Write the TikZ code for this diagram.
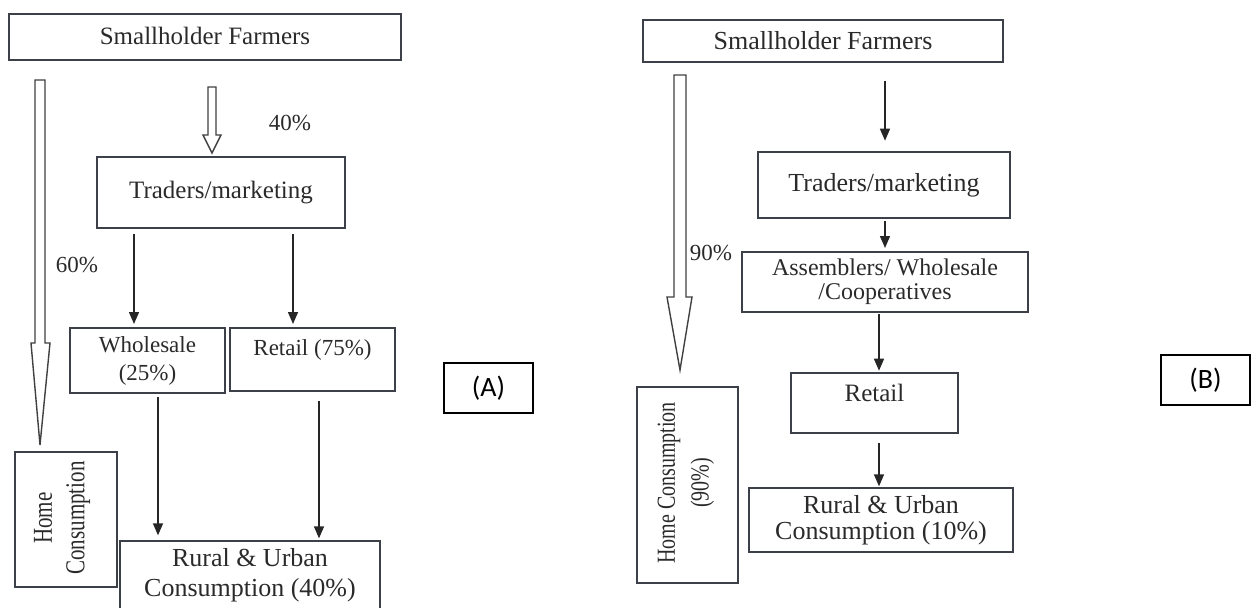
\documentclass[tikz,border=0pt]{standalone}
\usepackage{fontspec}
\setmainfont{Liberation Serif}
\newfontfamily\labfont{Carlito}
\usetikzlibrary{arrows.meta}
\definecolor{ink}{HTML}{2A2A2A}
\definecolor{edge}{HTML}{3C4048}
\begin{document}
\begin{tikzpicture}[x=1pt,y=-1pt,
  box/.style={draw=edge,line width=1.3pt,inner sep=0pt,align=center,text=ink,
              font=\fontsize{25}{30}\selectfont},
  thick box/.style={box,line width=2.6pt},
  mid box/.style={box,line width=2pt},
  vtext/.style={rotate=90,yscale=1.3,align=center,text=ink,inner sep=0pt},
  lab/.style={draw=black,line width=1.2pt,inner sep=0pt,minimum width=89pt,minimum height=50pt,
              font=\labfont\fontsize{28}{32}\selectfont},
  pct/.style={text=ink,inner sep=0pt,font=\fontsize{23}{26}\selectfont},
  arr/.style={draw=black!85,line width=1.4pt,-{Triangle[length=12pt,width=10pt]}},
  hollow/.style={draw=black!75,line width=1.4pt,fill=white,line join=miter}
]
\useasboundingbox (0,0) rectangle (1251,608);

% ================= Panel A =================
\node[box,minimum width=392pt,minimum height=46pt] (sfA) at (205,37) {\raisebox{3pt}{Smallholder Farmers}};
\node[thick box,minimum width=248pt,minimum height=71pt] (trA) at (221,192.5) {Traders/marketing};
\node[mid box,minimum width=155pt,minimum height=65pt,font=\fontsize{23}{28}\selectfont] (whA) at (147.5,360.5) {Wholesale\\(25\%)};
\node[mid box,minimum width=165pt,minimum height=63pt,font=\fontsize{23}{28}\selectfont] (rtA) at (312.5,359.5) {Retail (75\%)\\[-12pt]\strut};
\node[box,minimum width=260pt,minimum height=68pt,font=\fontsize{26}{30}\selectfont] (ruA) at (250,575) {Rural \& Urban\\Consumption (40\%)};
\node[box,minimum width=102pt,minimum height=135pt] (hoA) at (66,519.5) {};
\node[vtext,font=\fontsize{21}{25}\selectfont] (hoAt) at (62,518) {Home\\Consumption};
\node[lab] (labA) at (488.5,388) {(A)};

\node[pct] (p40) at (290,123) {40\%};
\node[pct] (p60) at (77,265) {60\%};

\coordinate (xa1) at (134,0);
\coordinate (xa2) at (293,0);
\coordinate (xa3) at (158,0);
\coordinate (xa4) at (319,0);
\draw[arr,shorten <=5pt,shorten >=3pt] (trA.south -| xa1) -- (whA.north -| xa1);
\draw[arr,shorten <=5pt,shorten >=3pt] (trA.south -| xa2) -- (rtA.north -| xa2);
\draw[arr,shorten <=3pt,shorten >=5pt] (whA.south -| xa3) -- (ruA.north -| xa3);
\draw[arr,shorten <=9pt,shorten >=2pt] (rtA.south -| xa4) -- (ruA.north -| xa4);

% hollow block arrows A
\draw[hollow] (35,80) -- (35,343) -- (31,343) -- (40,445) -- (50,343) -- (45,343) -- (45,80) -- cycle;
\draw[hollow] (208,87) -- (208,135) -- (203,135) -- (212,153) -- (221,135) -- (216,135) -- (216,87) -- cycle;

% ================= Panel B =================
\node[box,minimum width=360pt,minimum height=42pt,font=\fontsize{26}{30}\selectfont] (sfB) at (823,41) {Smallholder Farmers};
\node[thick box,minimum width=252pt,minimum height=66pt,font=\fontsize{26}{30}\selectfont] (trB) at (884,185) {Traders/marketing};
\node[mid box,minimum width=286pt,minimum height=60pt,font=\fontsize{24}{24}\selectfont] (asB) at (885,282) {\raisebox{-3pt}{Assemblers/ Wholesale}\\\raisebox{-3pt}{/Cooperatives}};
\node[thick box,minimum width=167pt,minimum height=60pt,font=\fontsize{25}{26}\selectfont] (reB) at (874.5,403) {Retail\\[-14pt]\strut};
\node[box,minimum width=264pt,minimum height=64pt,font=\fontsize{26}{26}\selectfont] (ruB) at (881,520) {Rural \& Urban\\Consumption (10\%)};
\node[box,minimum width=101pt,minimum height=196pt] (hoB) at (687.5,485) {};
\node[vtext,font=\fontsize{20}{26}\selectfont] (hoBt) at (686,483) {Home Consumption\\(90\%)};
\node[lab] (labB) at (1205.5,380) {(B)};

\node[pct] (p90) at (711,253) {90\%};

\coordinate (xb1) at (885,0);
\coordinate (xb2) at (879,0);
\draw[arr,shorten <=18pt,shorten >=10pt] (sfB.south -| xb1) -- (trB.north -| xb1);
\draw[arr,shorten <=2pt,shorten >=3pt] (trB.south -| xb1) -- (asB.north -| xb1);
\draw[arr,shorten <=1pt,shorten >=1pt] (asB.south -| xb2) -- (reB.north -| xb2);
\draw[arr,shorten <=9pt,shorten >=1pt] (reB.south -| xb2) -- (ruB.north -| xb2);

\draw[hollow] (674,75) -- (674,297) -- (667,297) -- (680,370) -- (692,297) -- (686,297) -- (686,75) -- cycle;
\end{tikzpicture}
\end{document}
